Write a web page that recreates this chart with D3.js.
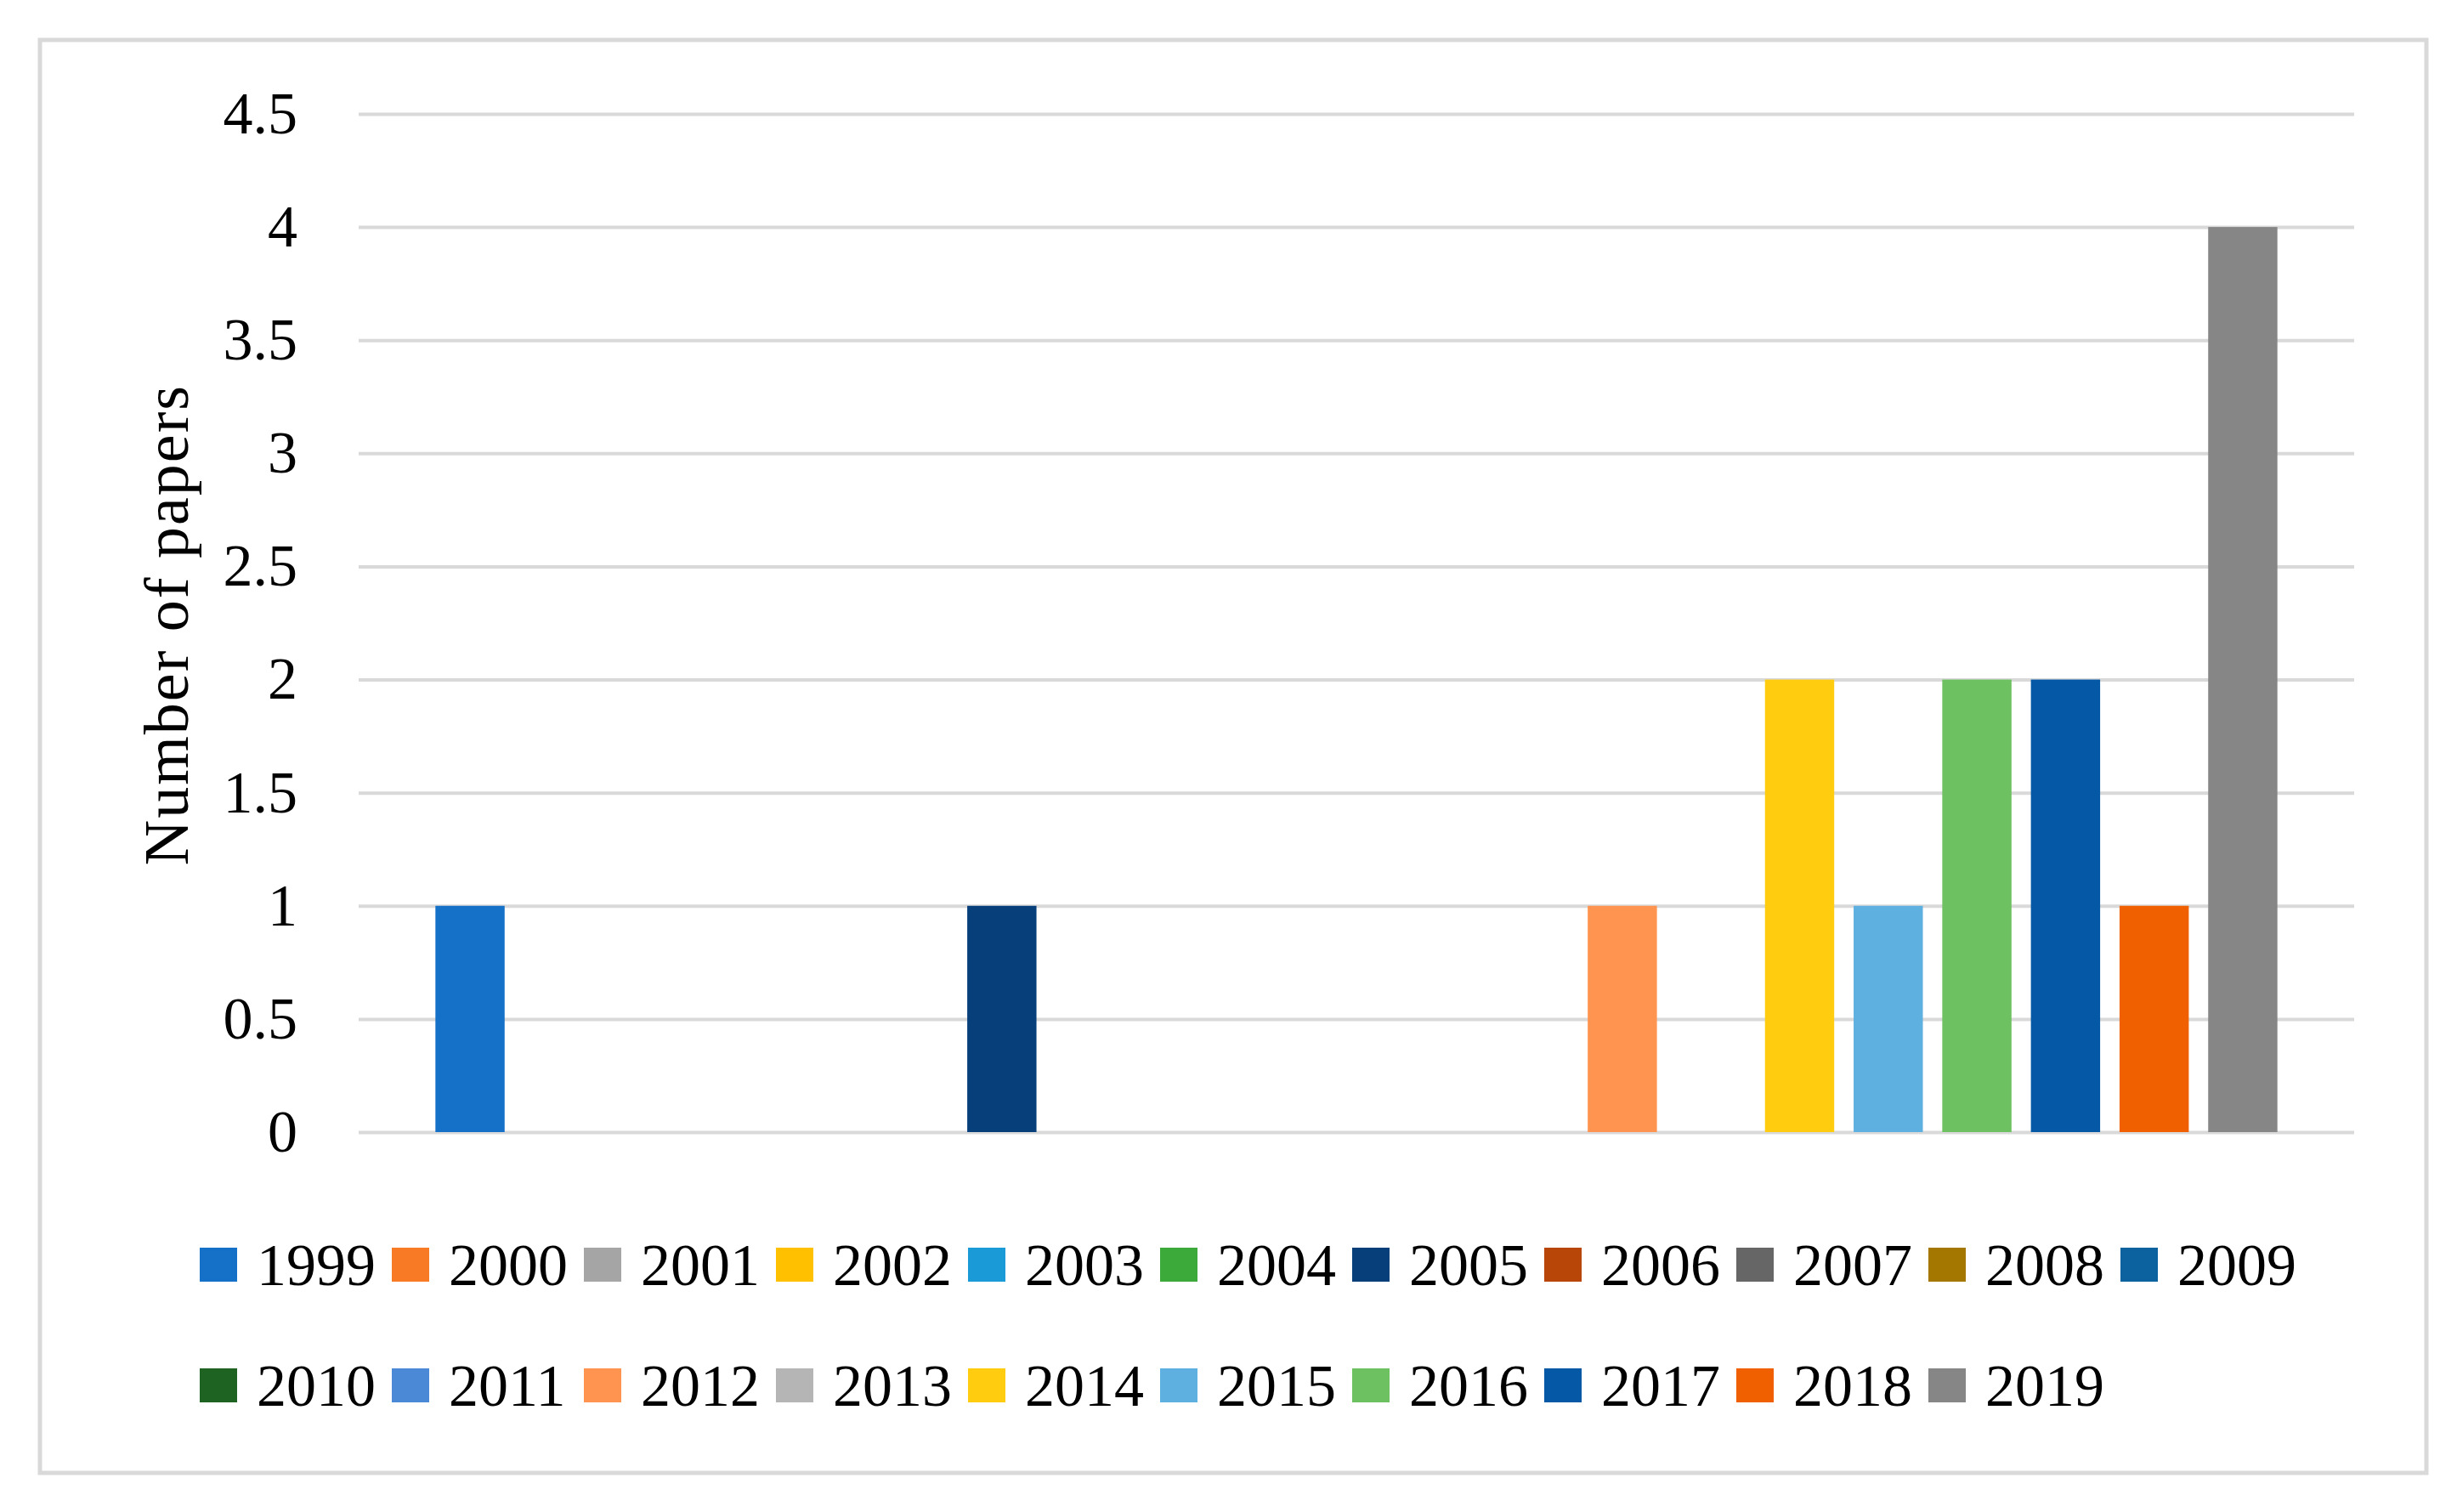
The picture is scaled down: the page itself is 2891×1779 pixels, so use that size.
<!DOCTYPE html>
<html>
<head>
<meta charset="utf-8">
<script src="https://cdn.jsdelivr.net/npm/d3@7"></script>
<style>
  body { margin: 0; background: #fff; }
  text { font-family: "Liberation Serif", "DejaVu Serif", serif; fill: #000; }
</style>
</head>
<body>
<svg id="chart" width="2891" height="1779"></svg>
<script>
// one cluster, one bar per publication year
var years = ["1999", "2000", "2001", "2002", "2003", "2004", "2005", "2006", "2007", "2008",
             "2009", "2010", "2011", "2012", "2013", "2014", "2015", "2016", "2017", "2018", "2019"];
var papers = [1, 0, 0, 0, 0, 0, 1, 0, 0, 0, 0, 0, 0, 1, 0, 2, 1, 2, 2, 1, 4];
var colors = ["#1570c8", "#f97a24", "#a5a5a5", "#ffc000", "#1a9bd7", "#3baa3b", "#073f7a",
              "#b84608", "#666666", "#a47700", "#0b629e", "#1e6322", "#4b89d6", "#ff9450",
              "#b5b5b5", "#ffcc0f", "#5eb0e0", "#6ec160", "#0458a6", "#f05f00", "#868686"];
var yTicks = [0, 0.5, 1, 1.5, 2, 2.5, 3, 3.5, 4, 4.5];

var svg = d3.select("#chart");
var plot_left = 422, plot_right = 2770, plot_top = 134, plot_bottom = 1332;

// outer frame
svg.append("rect")
    .attr("x", 47).attr("y", 47)
    .attr("width", 2808).attr("height", 1686)
    .attr("fill", "#fff")
    .attr("stroke", "#d9d9d9")
    .attr("stroke-width", 5);

var x = d3.scaleBand()
    .domain(years)
    .range([plot_left, plot_right])
    .paddingInner(0.219)
    .paddingOuter(0.866);

var y = d3.scaleLinear()
    .domain([0, 4.5])
    .range([plot_bottom, plot_top]);

var yAxis = svg.append("g")
    .attr("transform", "translate(" + plot_left + ",0)")
    .call(d3.axisLeft(y)
        .tickValues(yTicks)
        .tickFormat(function (d) { return String(d); })
        .tickSize(-(plot_right - plot_left))
        .tickPadding(72));

yAxis.select(".domain").remove();
yAxis.selectAll(".tick line")
    .attr("stroke", "#d9d9d9")
    .attr("stroke-width", 4);
yAxis.selectAll(".tick text")
    .attr("font-family", "Liberation Serif, serif")
    .attr("font-size", 70)
    .attr("fill", "#000");

svg.append("g")
    .selectAll("rect")
    .data(papers)
    .enter()
    .append("rect")
    .attr("x", function (d, i) { return x(years[i]); })
    .attr("y", function (d) { return y(d); })
    .attr("width", x.bandwidth())
    .attr("height", function (d) { return y(0) - y(d); })
    .attr("fill", function (d, i) { return colors[i]; });

svg.append("text")
    .attr("transform", "translate(221,735) rotate(-90)")
    .attr("text-anchor", "middle")
    .attr("font-size", 74)
    .attr("letter-spacing", 2)
    .text("Number of papers");

// legend: 11 columns, two rows
var col_step = 226, row_step = 142;
var legend = svg.append("g")
    .selectAll("g")
    .data(years)
    .enter()
    .append("g")
    .attr("transform", function (d, i) {
        return "translate(" + (235 + (i % 11) * col_step) + "," + (1488 + Math.floor(i / 11) * row_step) + ")";
    });

legend.append("rect")
    .attr("x", 0)
    .attr("y", -20)
    .attr("width", 44)
    .attr("height", 40)
    .attr("fill", function (d, i) { return colors[i]; });

legend.append("text")
    .attr("x", 67)
    .attr("dy", "0.34em")
    .attr("font-size", 70)
    .text(function (d) { return d; });
</script>
</body>
</html>
